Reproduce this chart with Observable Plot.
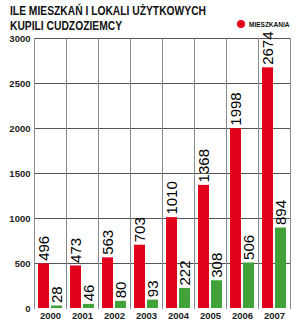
<!DOCTYPE html>
<html>
<head>
<meta charset="utf-8">
<script src="https://cdn.jsdelivr.net/npm/d3@7"></script>
<script src="https://cdn.jsdelivr.net/npm/@observablehq/plot@0.6"></script>
<style>
  html, body { margin: 0; padding: 0; background: #fff; }
  #wrap { position: relative; width: 300px; height: 331px; overflow: hidden; font-family: "Liberation Sans", Arial, sans-serif; }
  .t { position: absolute; left: 10px; font-weight: bold; font-size: 12px; color: #111; white-space: nowrap; transform-origin: 0 0; line-height: 1; }
  #legend { position: absolute; left: 237px; top: 20px; display: flex; align-items: center; font-size: 6.5px; font-weight: bold; color: #111; }
  #legend .dot { width: 8px; height: 8px; border-radius: 50%; background: #e3001b; margin-right: 4px; }
  #chart { position: absolute; left: 0; top: 0; }
</style>
</head>
<body>
<div id="wrap">
  <div id="chart"></div>
  <div class="t" id="t1" style="top:5px">ILE MIESZKAŃ I LOKALI UŻYTKOWYCH</div>
  <div class="t" id="t2" style="top:19.5px">KUPILI CUDZOZIEMCY</div>
  <div id="legend"><span class="dot"></span><span>MIESZKANIA</span></div>
</div>
<script>
const years = ["2000", "2001", "2002", "2003", "2004", "2005", "2006", "2007"];
const mieszkania = [496, 473, 563, 703, 1010, 1368, 1998, 2674];
const lokale = [28, 46, 80, 93, 222, 308, 506, 894];
const seriesNames = ["Mieszkania", "Lokale"];
const seriesColors = ["#e3001b", "#42a23a"];
const yTicks = [0, 500, 1000, 1500, 2000, 2500, 3000];

const data = years.flatMap((y, i) => [
  {year: y, series: seriesNames[0], value: mieszkania[i]},
  {year: y, series: seriesNames[1], value: lokale[i]}
]);

const chart = Plot.plot({
  width: 300,
  height: 331,
  marginTop: 38,
  marginBottom: 23,
  marginLeft: 34,
  marginRight: 10,
  style: {fontFamily: "'Liberation Sans', Arial, sans-serif", fontSize: "9.5px", fontWeight: "bold", color: "#222", background: "transparent"},
  fx: {domain: years, padding: 0, axis: "bottom", tickSize: 0, tickPadding: 4, label: null},
  x: {domain: seriesNames, paddingInner: 0.12, paddingOuter: 0.29, axis: null},
  y: {domain: [0, 3000], ticks: yTicks, tickFormat: d => String(d), tickSize: 0, tickPadding: 4, label: null},
  color: {domain: seriesNames, range: seriesColors},
  marks: [
    Plot.ruleY(yTicks.filter(d => d > 0), {stroke: "#555", strokeOpacity: 1}),
    Plot.frame({anchor: "left", stroke: "#8a8a8a", strokeOpacity: 1}),
    Plot.frame({anchor: "right", stroke: "#8a8a8a", strokeOpacity: 1}),
    Plot.barY(data, {fx: "year", x: "series", y: "value", fill: "series"}),
    Plot.text(data, {
      fx: "year", x: "series", y: "value",
      text: d => String(d.value),
      rotate: -90, textAnchor: "start", dy: -3,
      fontSize: 15, fontWeight: "normal", fill: "#000"
    })
  ]
});
document.getElementById("chart").appendChild(chart);

// fit title lines to the reference widths (condensed headline face)
const t1 = document.getElementById("t1");
const t2 = document.getElementById("t2");
const w1 = t1.getBoundingClientRect().width;
const k = 196 / w1;
t1.style.transform = `scaleX(${k})`;
t2.style.transform = `scaleX(${k})`;
</script>
</body>
</html>
